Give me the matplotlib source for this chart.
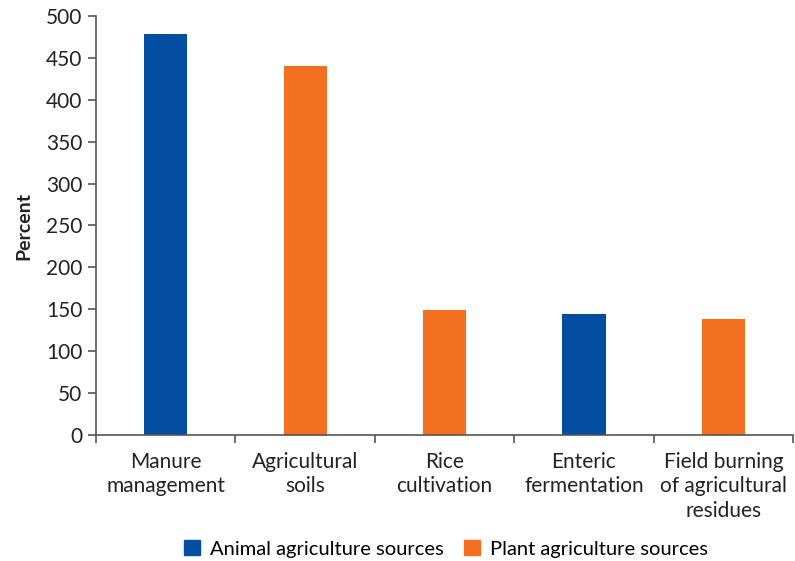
import matplotlib
matplotlib.use("Agg")
import matplotlib.pyplot as plt
from matplotlib.patches import Patch
import numpy as np

plt.rcParams['font.family'] = ['Lato', 'DejaVu Sans']

categories = ["Manure\nmanagement", "Agricultural\nsoils", "Rice\ncultivation",
              "Enteric\nfermentation", "Field burning\nof agricultural\nresidues"]
values = [479, 440, 149, 144, 139]
sources = ["Animal", "Plant", "Plant", "Animal", "Plant"]

blue = "#034ea2"
orange = "#f37021"
colors = [blue if s == "Animal" else orange for s in sources]

fig = plt.figure(figsize=(7.95, 5.61), dpi=100)
ax = fig.add_axes([0.1208, 0.2246, 0.8767, 0.7469])

x = np.arange(len(categories))
ax.bar(x, values, width=0.31, color=colors)

ax.set_xlim(-0.5, len(categories) - 0.5)
ax.set_ylim(0, 500)
ax.set_yticks(range(0, 501, 50))
ax.set_ylabel("Percent", fontsize=14, fontweight="bold", color="#222222", labelpad=10)

# category labels at bar centres, ticks at slot boundaries
ax.set_xticks(x)
ax.set_xticklabels(categories, fontsize=15, color="#222222", linespacing=1.3)
ax.tick_params(axis="x", length=0, pad=12)
ax.set_xticks(np.arange(-0.5, len(categories)), minor=True)
ax.tick_params(axis="x", which="minor", length=6, width=1.2, color="#555555")
ax.tick_params(axis="y", length=6, width=1.2, color="#555555", labelsize=15,
               labelcolor="#222222", pad=4)

for s in ["top", "right"]:
    ax.spines[s].set_visible(False)
for s in ["left", "bottom"]:
    ax.spines[s].set_color("#555555")
    ax.spines[s].set_linewidth(1.2)

handles = [Patch(color=blue, label="Animal agriculture sources"),
           Patch(color=orange, label="Plant agriculture sources")]
fig.legend(handles=handles, loc="center", bbox_to_anchor=(0.561, 0.022), ncol=2,
           frameon=False, fontsize=14.5, handlelength=0.8, handleheight=0.8,
           handletextpad=0.5, columnspacing=1.0)

fig.savefig("out.png", dpi=100)
